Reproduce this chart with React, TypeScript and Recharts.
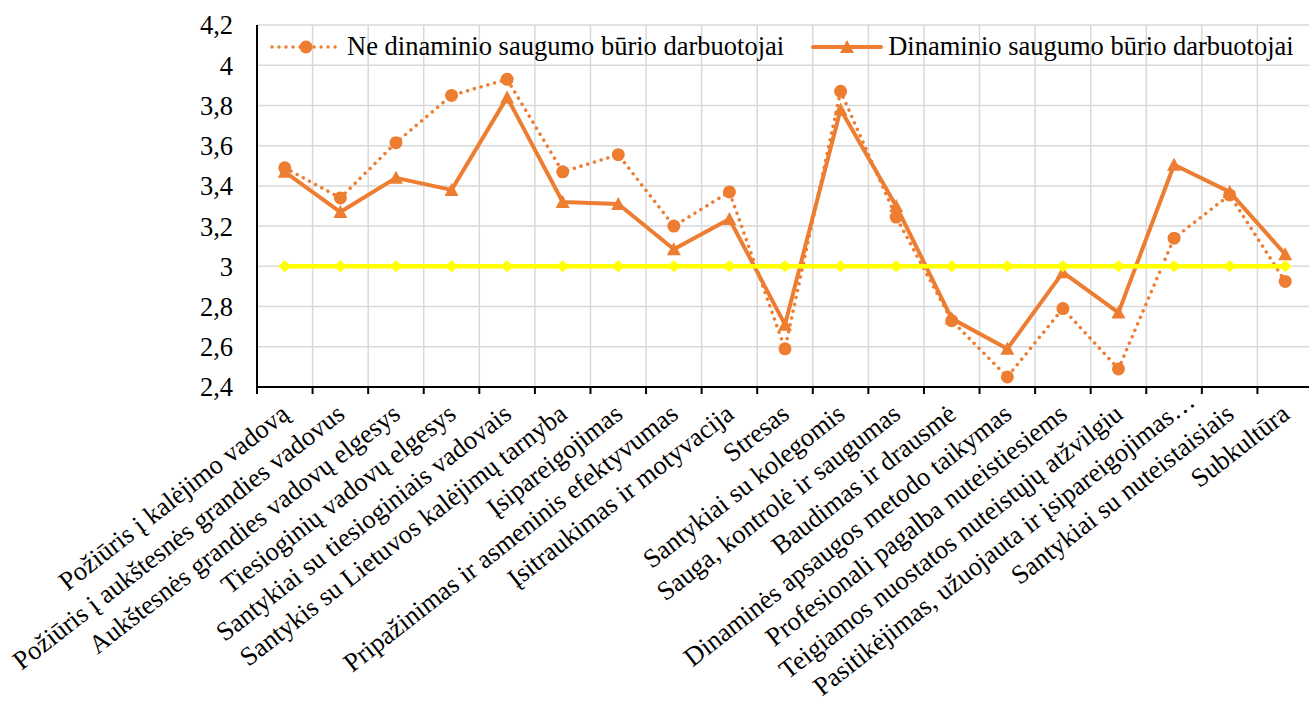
import React from "react"
import {
  LineChart, Line, XAxis, YAxis, CartesianGrid, Legend,
} from "recharts"

// Kategorijos (x ašis)
const categories = [
  "Požiūris į kalėjimo vadovą",
  "Požiūris į aukštesnės grandies vadovus",
  "Aukštesnės grandies vadovų elgesys",
  "Tiesioginių vadovų elgesys",
  "Santykiai su tiesioginiais vadovais",
  "Santykis su Lietuvos kalėjimų tarnyba",
  "Įsipareigojimas",
  "Pripažinimas ir asmeninis efektyvumas",
  "Įsitraukimas ir motyvacija",
  "Stresas",
  "Santykiai su kolegomis",
  "Sauga, kontrolė ir saugumas",
  "Baudimas ir drausmė",
  "Dinaminės apsaugos metodo taikymas",
  "Profesionali pagalba nuteistiesiems",
  "Teigiamos nuostatos nuteistųjų atžvilgiu",
  "Pasitikėjimas, užuojauta ir įsipareigojimas…",
  "Santykiai su nuteistaisiais",
  "Subkultūra",
]

const neDinaminio = [3.49, 3.34, 3.615, 3.85, 3.93, 3.47, 3.555, 3.2, 3.37, 2.59, 3.87, 3.245, 2.73, 2.45, 2.79, 2.49, 3.14, 3.355, 2.925]
const dinaminio = [3.47, 3.27, 3.44, 3.38, 3.84, 3.32, 3.31, 3.085, 3.235, 2.71, 3.78, 3.3, 2.74, 2.59, 2.97, 2.77, 3.505, 3.37, 3.06]
const riba = [3, 3, 3, 3, 3, 3, 3, 3, 3, 3, 3, 3, 3, 3, 3, 3, 3, 3, 3]

const yTicks = [2.4, 2.6, 2.8, 3, 3.2, 3.4, 3.6, 3.8, 4, 4.2]

const SERIES_NE = "Ne dinaminio saugumo būrio darbuotojai"
const SERIES_DIN = "Dinaminio saugumo būrio darbuotojai"

const ORANGE = "#ED7D31"
const YELLOW = "#FFFF00"
const FONT = "'Liberation Serif', 'Times New Roman', serif"
const FONT_SIZE = 26.5
const X_LABEL_SIZE = 26.5
const X_LABEL_ANGLE = -38

// layout
const CHART_W = 1320
const CHART_H = 704
const MARGIN = { top: 25, right: 7, bottom: 0, left: 0 }
const Y_AXIS_W = 257
const PLOT_H = 362
const X_AXIS_H = CHART_H - MARGIN.top - MARGIN.bottom - PLOT_H
const PLOT_W = CHART_W - MARGIN.left - MARGIN.right - Y_AXIS_W
const BAND = PLOT_W / categories.length

const data = categories.map((name, i) => ({
  name,
  ne: neDinaminio[i],
  din: dinaminio[i],
  riba: riba[i],
}))

const fmtY = (v: number) => String(Number(v.toFixed(1))).replace(".", ",")

function XTick(props: any) {
  const { x, y, payload } = props
  const left = x - BAND / 2
  // truncated labels (…) sit a little further along their baseline, like in Excel
  const shift = String(payload.value).endsWith("…") ? 21 : 0
  const rad = (X_LABEL_ANGLE * Math.PI) / 180
  const tx = x + 6 + shift * Math.cos(rad)
  const ty = y + 30 + shift * Math.sin(rad)
  return (
    <g>
      <line x1={left} y1={y} x2={left} y2={y + 7} stroke="#000" strokeWidth={2} />
      <text
        x={tx}
        y={ty}
        textAnchor="end"
        transform={`rotate(${X_LABEL_ANGLE} ${tx} ${ty})`}
        fill="#000"
        fontFamily={FONT}
        fontSize={X_LABEL_SIZE}
      >
        {payload.value}
      </text>
    </g>
  )
}

function Triangle(props: any) {
  const { cx, cy } = props
  if (cx == null || cy == null) return null
  return (
    <polygon
      points={`${cx - 7},${cy + 6} ${cx + 7},${cy + 6} ${cx},${cy - 7}`}
      fill={ORANGE}
    />
  )
}

function Diamond(props: any) {
  const { cx, cy } = props
  if (cx == null || cy == null) return null
  return (
    <polygon
      points={`${cx - 6.5},${cy} ${cx},${cy - 6} ${cx + 6.5},${cy} ${cx},${cy + 6}`}
      fill={YELLOW}
    />
  )
}

function LegendBox() {
  return (
    <div style={{ display: "flex", alignItems: "center", fontFamily: FONT, fontSize: FONT_SIZE, color: "#000", whiteSpace: "nowrap" }}>
      <svg width={72} height={20} style={{ marginRight: 5 }}>
        <line x1={2} y1={10} x2={70} y2={10} stroke={ORANGE} strokeWidth={3.5} strokeDasharray="0.01 7" strokeLinecap="round" />
        <circle cx={36} cy={10} r={6.5} fill={ORANGE} />
      </svg>
      <span>{SERIES_NE}</span>
      <svg width={72} height={20} style={{ marginLeft: 27, marginRight: 5 }}>
        <line x1={2} y1={10} x2={70} y2={10} stroke={ORANGE} strokeWidth={4} strokeLinecap="round" />
        <polygon points="29,16 43,16 36,3" fill={ORANGE} />
      </svg>
      <span>{SERIES_DIN}</span>
    </div>
  )
}

export default function App() {
  return (
    <div style={{ position: "absolute", left: 0, top: 0, width: 1309, height: 704, overflow: "hidden", background: "#fff" }}>
      <LineChart width={CHART_W} height={CHART_H} data={data} margin={MARGIN}>
        <CartesianGrid
          stroke="#d9d9d9"
          strokeWidth={1.5}
          verticalCoordinatesGenerator={({ offset }: any) =>
            categories.map((_, i) => offset.left + i * (offset.width / categories.length)).concat(offset.left + offset.width)
          }
        />
        <XAxis
          dataKey="name"
          scale="band"
          interval={0}
          height={X_AXIS_H}
          tickLine={false}
          tickSize={0}
          tickMargin={0}
          axisLine={{ stroke: "#000", strokeWidth: 2 }}
          tick={<XTick />}
        />
        <XAxis
          xAxisId="top"
          dataKey="name"
          scale="band"
          orientation="top"
          height={0}
          tick={false}
          tickLine={false}
          axisLine={{ stroke: "#000", strokeWidth: 2 }}
        />
        <YAxis
          width={Y_AXIS_W}
          domain={[2.4, 4.2]}
          ticks={yTicks}
          tickFormatter={fmtY}
          tickLine={false}
          tickSize={0}
          tickMargin={24}
          axisLine={{ stroke: "#000", strokeWidth: 2 }}
          tick={{ fill: "#000", fontFamily: FONT, fontSize: FONT_SIZE }}
          allowDataOverflow
        />
        <Legend
          layout="horizontal"
          verticalAlign="middle"
          align="center"
          content={() => <LegendBox />}
          wrapperStyle={{ top: 31, left: 270, width: "auto", height: "auto" }}
        />
        <Line
          dataKey="ne"
          name={SERIES_NE}
          stroke={ORANGE}
          strokeWidth={3.5}
          strokeDasharray="0.01 7"
          strokeLinecap="round"
          dot={{ r: 6.5, fill: ORANGE, stroke: "none", strokeDasharray: "" }}
          activeDot={false}
          isAnimationActive={false}
        />
        <Line
          dataKey="din"
          name={SERIES_DIN}
          stroke={ORANGE}
          strokeWidth={4}
          strokeLinejoin="round"
          dot={<Triangle />}
          activeDot={false}
          isAnimationActive={false}
        />
        <Line
          dataKey="riba"
          name="Riba"
          stroke={YELLOW}
          strokeWidth={4.5}
          dot={<Diamond />}
          activeDot={false}
          legendType="none"
          isAnimationActive={false}
        />
      </LineChart>
    </div>
  )
}
